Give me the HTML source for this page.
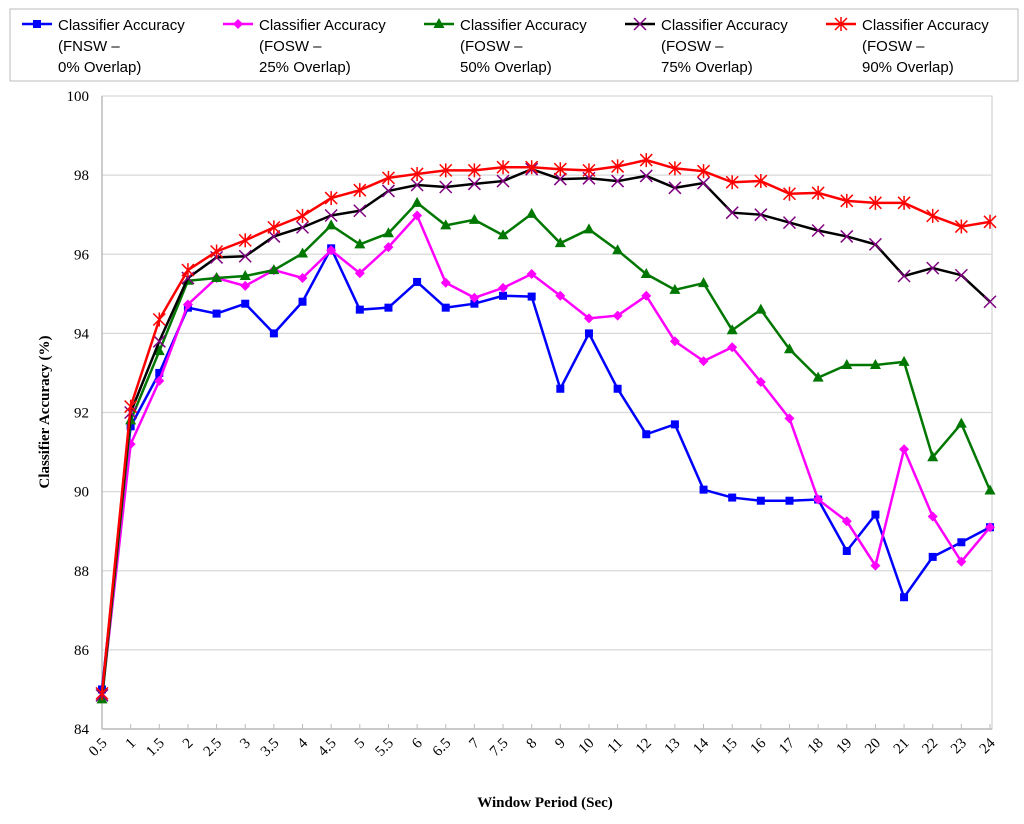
<!DOCTYPE html>
<html><head><meta charset="utf-8"><style>
body{margin:0;background:#fff;}
svg{display:block;font-family:"Liberation Serif",serif;}
.leg{font-family:"Liberation Sans",sans-serif;font-size:15px;fill:#000;}
</style></head><body>
<svg id="chart" width="1024" height="824" xmlns="http://www.w3.org/2000/svg"></svg>
<script>
const categories=["0.5","1","1.5","2","2.5","3","3.5","4","4.5","5","5.5","6","6.5","7","7.5","8","9","10","11","12","13","14","15","16","17","18","19","20","21","22","23","24"];
const fnsw0=[85.0,91.65,93.0,94.65,94.5,94.75,94.0,94.8,96.15,94.6,94.65,95.3,94.65,94.75,94.95,94.93,92.6,94.0,92.6,91.45,91.7,90.05,89.85,89.77,89.77,89.8,88.5,89.42,87.33,88.35,88.72,89.1];
const fosw25=[84.8,91.2,92.8,94.73,95.4,95.2,95.6,95.4,96.1,95.52,96.18,96.98,95.28,94.9,95.15,95.5,94.95,94.38,94.45,94.95,93.8,93.3,93.65,92.77,91.85,89.8,89.25,88.13,91.07,89.37,88.23,89.1];
const fosw50=[84.75,91.8,93.55,95.33,95.4,95.45,95.6,96.02,96.73,96.25,96.53,97.3,96.73,96.87,96.48,97.02,96.28,96.63,96.1,95.5,95.1,95.27,94.08,94.6,93.6,92.88,93.2,93.2,93.28,90.87,91.72,90.03];
const fosw75=[84.85,92.0,93.8,95.4,95.92,95.95,96.45,96.68,96.98,97.1,97.6,97.75,97.7,97.78,97.85,98.15,97.9,97.92,97.85,97.98,97.68,97.8,97.05,97.0,96.8,96.6,96.45,96.25,95.45,95.65,95.47,94.8];
const fosw90=[84.9,92.15,94.35,95.6,96.07,96.35,96.68,96.97,97.42,97.62,97.93,98.03,98.12,98.12,98.2,98.2,98.15,98.12,98.22,98.38,98.17,98.1,97.82,97.85,97.53,97.55,97.35,97.3,97.3,96.97,96.7,96.82];
const yTicks=[84,86,88,90,92,94,96,98,100];
const legendLabels=[["Classifier Accuracy","(FNSW –","0% Overlap)"],["Classifier Accuracy","(FOSW –","25% Overlap)"],["Classifier Accuracy","(FOSW –","50% Overlap)"],["Classifier Accuracy","(FOSW –","75% Overlap)"],["Classifier Accuracy","(FOSW –","90% Overlap)"]];

const NS="http://www.w3.org/2000/svg";
const svg=document.getElementById('chart');
function mk(t,a,p){const e=document.createElementNS(NS,t);for(const k in a)e.setAttribute(k,a[k]);(p||svg).appendChild(e);return e;}
const X0=102,X1=990,Y0=729,Y1=96;
const xs=i=>X0+i*(X1-X0)/(categories.length-1);
const ys=v=>Y0-(v-84)/(100-84)*(Y0-Y1);

let e=mk('rect',{x:102,y:Y1,width:890,height:Y0-Y1,fill:'none',stroke:'#c8c8c8','stroke-width':1});


yTicks.forEach(t=>{
 const g=mk('line',{x1:102,x2:992,y1:ys(t),y2:ys(t),stroke:'#d9d9d9','stroke-width':1.2});
 
 
 const l=mk('text',{x:89,y:ys(t)+5,'text-anchor':'end','font-size':15});
 l.textContent=t;
 
 
});
mk('line',{x1:102,x2:102,y1:Y1,y2:Y0,stroke:'#bbb','stroke-width':1.5});
mk('line',{x1:102,x2:992,y1:Y0,y2:Y0,stroke:'#bbb','stroke-width':1.5});
categories.forEach((c,i)=>{
 const x=xs(i);
 mk('line',{x1:x,x2:x,y1:Y0-5,y2:Y0,stroke:'#bbb'});
 const ax=x-2,ay=Y0+7;
 const l=mk('text',{x:ax,y:ay+11,'text-anchor':'end','font-size':15,transform:`rotate(-45 ${ax} ${ay})`});
 l.textContent=c;
 
 
});
let t=mk('text',{x:0,y:0,'text-anchor':'middle','font-size':15,'font-weight':'bold',transform:'translate(49 412) rotate(-90)'});
t.textContent='Classifier Accuracy (%)';


t=mk('text',{x:545,y:807,'text-anchor':'middle','font-size':15,'font-weight':'bold'});
t.textContent='Window Period (Sec)';



const series=[
 {d:fnsw0,c:'#0000ff',m:'square',n:'series-fnsw-0'},
 {d:fosw25,c:'#ff00ff',m:'diamond',n:'series-fosw-25'},
 {d:fosw50,c:'#007700',m:'triangle',n:'series-fosw-50'},
 {d:fosw75,c:'#000000',m:'x',n:'series-fosw-75',mc:'#800080'},
 {d:fosw90,c:'#ff0000',m:'star',n:'series-fosw-90'}
];
function marker(g,type,x,y,c){
 if(type==='square')mk('rect',{x:x-4,y:y-4,width:8,height:8,fill:c},g);
 else if(type==='diamond')mk('polygon',{points:`${x},${y-5} ${x+5},${y} ${x},${y+5} ${x-5},${y}`,fill:c},g);
 else if(type==='triangle')mk('polygon',{points:`${x},${y-6} ${x+5.5},${y+4} ${x-5.5},${y+4}`,fill:c},g);
 else if(type==='x'){mk('path',{d:`M${x-6} ${y-6}L${x+6} ${y+6}M${x+6} ${y-6}L${x-6} ${y+6}`,stroke:c,'stroke-width':1.5},g);}
 else {mk('path',{d:`M${x-6} ${y-6}L${x+6} ${y+6}M${x+6} ${y-6}L${x-6} ${y+6}M${x} ${y-7}L${x} ${y+7}`,stroke:c,'stroke-width':1.5},g);}
}
series.forEach(s=>{
 const g=mk('g',{});
 
 
 mk('polyline',{points:s.d.map((v,i)=>xs(i)+','+ys(v)).join(' '),fill:'none',stroke:s.c,'stroke-width':2.5},g);
 s.d.forEach((v,i)=>marker(g,s.m,xs(i),ys(v),s.mc||s.c));
});
const lg=mk('g',{});


mk('rect',{x:10,y:9,width:1008,height:72,fill:'#fff',stroke:'#bbb'},lg);
series.forEach((s,i)=>{
 const bx=22+i*201;
 const en=mk('g',{},lg);
 
 
 mk('line',{x1:bx,x2:bx+30,y1:24,y2:24,stroke:s.c,'stroke-width':2.5},en);
 marker(en,s.m,bx+15,24,s.mc||s.c);
 legendLabels[i].forEach((ln,j)=>{
  const tx=mk('text',{x:bx+36,y:30+j*21,class:'leg'},en);
  tx.textContent=ln;
 });
});
</script>
</body></html>
